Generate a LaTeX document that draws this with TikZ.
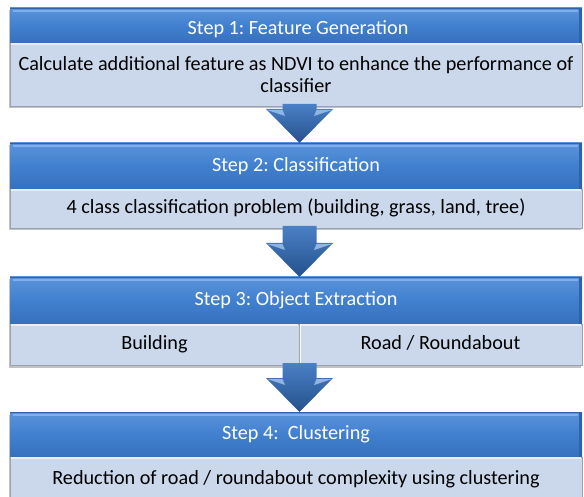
\documentclass[tikz,border=0pt]{standalone}
\usepackage{fontspec}
\setmainfont{Carlito}
\frenchspacing
\usetikzlibrary{calc,backgrounds}
\definecolor{hdtop}{HTML}{5B93DA}
\definecolor{hdmid}{HTML}{4180CF}
\definecolor{hdbot}{HTML}{3670BD}
\definecolor{hdhi}{HTML}{7EB0EE}
\definecolor{hdedge}{HTML}{2F62A8}
\definecolor{cfill}{HTML}{CBD8EC}
\definecolor{ctop}{HTML}{E8EEF8}
\definecolor{cline}{HTML}{97A2B2}
\definecolor{artop}{HTML}{4A80C6}
\definecolor{arbot}{HTML}{24518C}
\definecolor{arhi}{HTML}{A4C6F0}
\definecolor{shad}{HTML}{9A9A9A}
\tikzset{
 header/.style={rectangle, inner sep=0pt, outer sep=0pt, minimum width=572pt, anchor=north west,
   top color=hdtop, bottom color=hdbot, middle color=hdmid, text=white, font=\fontsize{20.2}{22}\selectfont},
 headertext/.style={inner sep=0pt, text=white, font=\fontsize{20.2}{22}\selectfont},
 content/.style={rectangle, inner sep=0pt, outer sep=0pt, anchor=north west, fill=cfill, draw=cline,
   line width=0.6pt, text=black, align=center, font=\fontsize{20.2}{22}\selectfont},
 cellbox/.style={content, text height=14pt, text depth=4pt},
 arrowbody/.style={top color=artop, bottom color=arbot},
 arrowhi/.style={fill=arhi, opacity=0.8},
 shadowbox/.style={fill=shad, opacity=0.6},
}
\newcommand\headerbevel[1]{%
  \fill[hdedge] ([xshift=-3pt]#1.north east) rectangle (#1.south east);
  \draw[hdedge, line width=0.8pt] (#1.north west) -- (#1.north east);
  \draw[hdhi, line width=2pt] ([xshift=3pt,yshift=-3pt]#1.north west) -- ([xshift=-4pt,yshift=-3pt]#1.north east);
}
\newcommand\contentbevel[1]{%
  \draw[ctop, line width=1.5pt] ([xshift=1pt,yshift=-1.2pt]#1.north west) -- ([xshift=-1pt,yshift=-1.2pt]#1.north east);
}
\newcommand\blockarrow[2]{%
 \path[arrowbody] let \p1=(#1.south), \p2=(#2.north) in
  (\x2-13.5pt,\y1+2pt) -- (\x2+20.5pt,\y1+2pt) -- (\x2+20.5pt,\y2+34pt) -- (\x2+37pt,\y2+34pt)
  -- (\x2+3.5pt,\y2) -- (\x2-30pt,\y2+34pt) -- (\x2-13.5pt,\y2+34pt) -- cycle;
 \path[arrowhi] let \p2=(#2.north) in
  (\x2-29pt,\y2+33pt) -- (\x2-13.5pt,\y2+33pt) -- (\x2-11pt,\y2+27pt) -- cycle
  (\x2+36pt,\y2+33pt) -- (\x2+20.5pt,\y2+33pt) -- (\x2+18pt,\y2+27pt) -- cycle;
}
\begin{document}
\begin{tikzpicture}[x=1pt,y=-1pt]
\useasboundingbox (0,0) rectangle (584,497);
\clip (0,0) rectangle (584,497);
% Step 1
\node[header, minimum height=35pt] (h1) at (10,8) {};
\node[content, minimum width=572pt, minimum height=63pt] (c1) at (10,43)
  {Calculate additional feature as NDVI to enhance the performance of\\classifier};
% Step 2
\node[header, minimum height=46pt] (h2) at (10,143) {Step 2: Classification};
\node[cellbox, minimum width=572pt, minimum height=39pt] (c2) at (10,189)
  {4 class classification problem (building, grass, land, tree)};
% Step 3
\node[header, minimum height=47pt] (h3) at (10,277) {Step 3: Object Extraction};
\node[cellbox, minimum width=289pt, minimum height=41pt] (c3a) at (10,324) {Building};
\node[cellbox, minimum width=283pt, minimum height=41pt] (c3b) at (299,324) {Road / Roundabout};
% Step 4
\node[header, minimum height=45pt] (h4) at (10,412) {Step 4:\ \ Clustering};
\node[cellbox, minimum width=572pt, minimum height=45pt] (c4) at (10,457)
  {Reduction of road / roundabout complexity using clustering};
% bevels
\headerbevel{h1}\headerbevel{h2}\headerbevel{h3}\headerbevel{h4}
\contentbevel{c1}\contentbevel{c2}\contentbevel{c3a}\contentbevel{c3b}\contentbevel{c4}
\draw[white, line width=0.8pt] ([xshift=1pt]c3b.north west) -- ([xshift=1pt]c3b.south west);
\node[headertext] (h1t) at ([xshift=2pt,yshift=-4pt]h1.center) {Step 1: Feature Generation};
% shadows
\begin{pgfonlayer}{background}
\fill[shadowbox] ([xshift=-1.5pt,yshift=-2.5pt]h1.north west) rectangle ([xshift=-1pt,yshift=-2.5pt]c1.south east);
\fill[shadowbox] ([xshift=-1.5pt,yshift=-2.5pt]h2.north west) rectangle ([xshift=-1pt,yshift=-2.5pt]c2.south east);
\fill[shadowbox] ([xshift=-1.5pt,yshift=-2.5pt]h3.north west) rectangle ([xshift=-1pt,yshift=-2.5pt]c3b.south east);
\fill[shadowbox] ([xshift=-1.5pt,yshift=-2.5pt]h4.north west) rectangle ([xshift=-1pt,yshift=-2.5pt]c4.south east);
\end{pgfonlayer}
% arrows
\blockarrow{c1}{h2}
\blockarrow{c2}{h3}
\blockarrow{c3a}{h4}
\end{tikzpicture}
\end{document}
